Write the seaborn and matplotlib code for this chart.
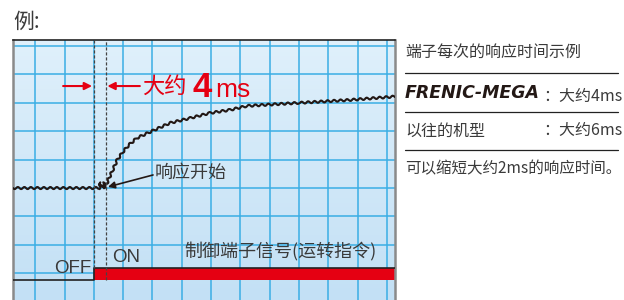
import numpy as np
import matplotlib
matplotlib.use("Agg")
import matplotlib.pyplot as plt
from matplotlib.lines import Line2D
from matplotlib.colors import LinearSegmentedColormap
import seaborn as sns
import pandas as pd

# response waveform (t in ms, level in grid units)
resp_t = [-27.6, 2.0, 2.2, 2.9, 3.3, 3.8, 5.0, 6.5, 8.0, 9.9, 12.0, 14.7, 19.1,
          26.0, 32.8, 39.6, 46.5, 52.3, 70.3, 87.4, 102.8]
resp_y = [0.0, 0.0, 0.2, 0.02, 0.2, 0.0, 0.3, 0.65, 0.99, 1.27, 1.52, 1.76, 1.97,
          2.29, 2.46, 2.64, 2.75, 2.89, 3.0, 3.10, 3.22]

# control terminal signal (OFF -> ON at t=0)
ctrl_t = [-27.6, 0.0, 0.0, 102.8]
ctrl_y = [-3.24, -3.24, -2.82, -2.82]

on_time = 0.0
resp_start = 4.0

side_title = "端子每次的响应时间示例"
rows = [("FRENIC-MEGA", "：大约4ms"), ("以往的机型", "：大约6ms")]
note = "可以缩短大约2ms的响应时间。"

red = "#e50012"
grey_txt = "#3a3a3a"

sns.set_style("white", {"axes.facecolor": "#d5eaf8"})
plt.rcParams['font.family'] = ['Noto Sans CJK SC', 'DejaVu Sans']

fig = plt.figure(figsize=(6.24, 3.0), dpi=100)
ax = fig.add_axes([13 / 624, 0, 382 / 624, 1 - 40 / 300])
ax.set_xlim(-27.6, 102.8)
ax.set_ylim(-3.94, 5.21)

# soft vertical gradient background
bg = LinearSegmentedColormap.from_list("bg", ["#c3e0f5", "#dff0fb"])
ax.imshow(np.linspace(0, 1, 64).reshape(-1, 1), cmap=bg, origin="lower", aspect="auto",
          extent=[-27.6, 102.8, -3.94, 5.21], zorder=0)

# grid
for gx in range(-20, 101, 10):
    ax.axvline(gx, color="#3aaee5", lw=1.1, zorder=1)
for gy in range(-3, 6):
    ax.axhline(gy, color="#3aaee5", lw=1.1, zorder=1)

# red ON bar
ax.fill_between([on_time, 102.8], -3.24, -2.82, color=red, lw=0, zorder=2)

# control signal line
sns.lineplot(x=ctrl_t, y=ctrl_y, ax=ax, sort=False, estimator=None,
             color="#222222", lw=1.2, zorder=3)

# response curve, wavy
sns.lineplot(x=resp_t, y=resp_y, ax=ax, sort=False, estimator=None,
             color="#231815", lw=1.5, zorder=4)
ax.lines[-1].set_sketch_params(1.1, 6.5, 1)

# dashed markers
ax.plot([on_time, on_time], [-2.82, 5.21], ls=(0, (2.5, 1.5)), color="#444444", lw=0.9, zorder=5)
ax.plot([resp_start, resp_start], [-3.24, 5.21], ls=(0, (2.5, 1.5)), color="#444444", lw=0.9, zorder=5)

# 4ms arrows
ax.annotate("", xy=(-0.6, 3.59), xytext=(-10.5, 3.59),
            arrowprops=dict(arrowstyle="-|>", color=red, lw=1.5, mutation_scale=11,
                            shrinkA=0, shrinkB=0), zorder=6)
ax.annotate("", xy=(4.6, 3.59), xytext=(15.7, 3.59),
            arrowprops=dict(arrowstyle="-|>", color=red, lw=1.5, mutation_scale=11,
                            shrinkA=0, shrinkB=0), zorder=6)
ax.text(16.6, 3.57, "大约", color=red, fontsize=16, va="center", ha="left")
ax.text(33.6, 3.2, "4", color=red, fontsize=25, va="baseline", ha="left",
        family="Liberation Sans", fontweight="bold")
ax.text(41.4, 3.2, "ms", color=red, fontsize=19, va="baseline", ha="left",
        family="Liberation Sans")

# response start label
ax.annotate("", xy=(4.8, 0.04), xytext=(20.2, 0.46),
            arrowprops=dict(arrowstyle="-|>", color="#231815", lw=1.2, mutation_scale=10,
                            shrinkA=0, shrinkB=0), zorder=6)
ax.text(20.9, 0.53, "响应开始", color=grey_txt, fontsize=13, va="center", ha="left")

ax.text(-1.0, -3.0, "OFF", color=grey_txt, fontsize=13.5, va="baseline", ha="right",
        family="Liberation Sans")
ax.text(6.2, -2.6, "ON", color=grey_txt, fontsize=13.5, va="baseline", ha="left",
        family="Liberation Sans")
ax.text(30.7, -2.25, "制御端子信号(运转指令)", color=grey_txt, fontsize=13,
        va="center", ha="left")

ax.set_xticks([])
ax.set_yticks([])
ax.set_xlabel("")
ax.set_ylabel("")
for s in ["left", "right"]:
    ax.spines[s].set_color("#8a8a8a")
    ax.spines[s].set_linewidth(1.8)
ax.spines["top"].set_color("#222222")
ax.spines["top"].set_linewidth(1.2)
ax.spines["bottom"].set_visible(False)


def fx(px):
    return px / 624


def fy(py):
    return 1 - py / 300


fig.text(fx(13), fy(22), "例:", fontsize=15, color=grey_txt, va="center", ha="left")

fig.text(fx(405), fy(52), side_title, fontsize=11.5, color=grey_txt, va="center")
for yy in [73, 112, 150]:
    fig.add_artist(Line2D([fx(405), fx(618)], [fy(yy), fy(yy)], color="#222222", lw=0.9))
fig.text(fx(405), fy(98), rows[0][0], fontsize=12.5, color="#231815", va="baseline",
         fontweight="bold", fontstyle="italic", family="DejaVu Sans")
fig.text(fx(622), fy(96), rows[0][1], fontsize=11.5, color=grey_txt, va="center", ha="right")
fig.text(fx(405), fy(131), rows[1][0], fontsize=11.5, color=grey_txt, va="center")
fig.text(fx(622), fy(131), rows[1][1], fontsize=11.5, color=grey_txt, va="center", ha="right")
fig.text(fx(405), fy(169), note, fontsize=11.2, color=grey_txt, va="center")

fig.savefig("out.png", dpi=100)
